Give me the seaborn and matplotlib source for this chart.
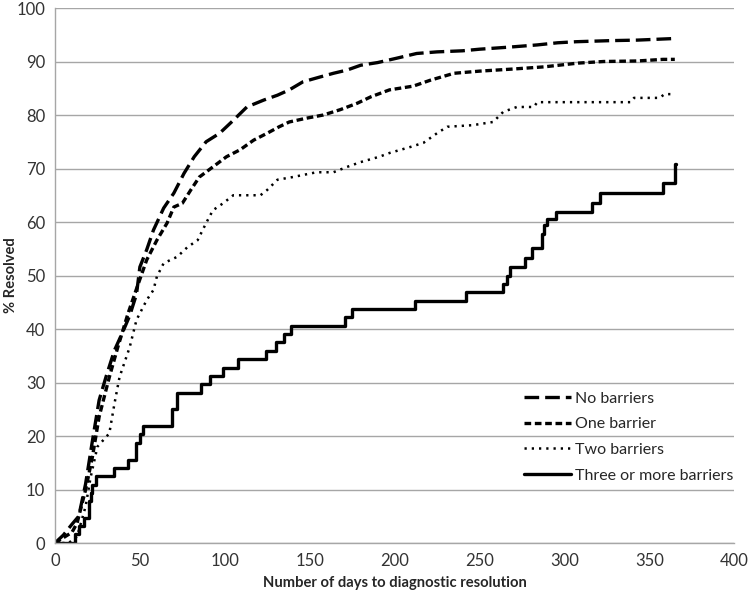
import matplotlib
matplotlib.use("Agg")
import matplotlib.pyplot as plt
import seaborn as sns

# ── Data ──────────────────────────────────────────────────────────────────────
no_days = [0, 5, 10, 14, 18, 22, 26, 30, 35, 40, 44, 48, 50, 54, 58, 64, 70, 76,
           82, 89, 97, 105, 113, 123, 131, 138, 146, 156, 164, 172, 180, 190, 201,
           213, 225, 240, 250, 268, 284, 296, 307, 327, 343, 365]
no_pct = [0, 1.5, 3.5, 5, 11, 19, 26.7, 31, 36, 39.5, 42.5, 46.5, 51.6, 54.8, 58.5,
          62.6, 65.4, 69.1, 72.2, 75, 76.6, 79, 81.5, 82.8, 83.7, 84.7, 86.2, 87.1,
          87.8, 88.4, 89.3, 89.8, 90.6, 91.5, 91.8, 92, 92.3, 92.7, 93.1, 93.5, 93.7,
          93.9, 94, 94.3]

one_days = [0, 5, 10, 13, 18, 22, 26, 32, 37, 43, 48, 54, 60, 66, 70, 75, 80, 85,
            93, 101, 109, 117, 125, 132, 138, 148, 158, 168, 178, 186, 197, 211, 221,
            235, 250, 270, 288, 308, 323, 343, 358, 365]
one_pct = [0, 1, 2, 3.7, 9.9, 16, 23.6, 31, 36.6, 42.9, 47.5, 52.9, 56.6, 59.8, 62.8,
           63.5, 66, 68.4, 70.3, 72.2, 73.5, 75.3, 76.6, 77.8, 78.7, 79.4, 80, 81,
           82.2, 83.4, 84.7, 85.4, 86.5, 87.8, 88.2, 88.6, 89, 89.7, 90, 90.1, 90.4,
           90.4]

two_days = [0, 8, 13, 18, 21, 25, 32, 35, 38, 44, 48, 54, 58, 60, 64, 72, 78, 84, 89,
            93, 99, 105, 121, 125, 131, 140, 154, 164, 172, 180, 191, 197, 209, 217,
            225, 231, 246, 258, 264, 272, 282, 284, 339, 341, 356, 359, 365]
two_pct = [0, 0, 1.2, 6.8, 12.3, 18, 20.5, 26, 31, 36.6, 41.7, 45.4, 47.3, 49.8, 52.3,
           53.5, 55.3, 56.6, 59.8, 62.2, 63.5, 65, 65, 66, 67.9, 68.4, 69.3, 69.3,
           70.3, 71.2, 72.2, 72.9, 74, 74.8, 76.6, 77.8, 78.1, 78.7, 80.6, 81.5,
           81.5, 82.4, 82.4, 83.2, 83.2, 83.9, 83.9]

three_days = [0, 12, 14, 17, 20, 21, 22, 24, 35, 43, 48, 50, 52, 69, 72, 86, 91, 99,
              108, 124, 130, 135, 139, 171, 175, 212, 242, 264, 266, 268, 277, 281,
              287, 288, 290, 295, 316, 321, 358, 365, 365.5]
three_pct = [0, 1.6, 3.1, 4.7, 7.8, 9.4, 10.9, 12.5, 14.1, 15.6, 18.75, 20.3, 21.9,
             25, 28.1, 29.7, 31.25, 32.8, 34.4, 35.9, 37.5, 39.1, 40.6, 42.2, 43.75,
             45.3, 46.9, 48.4, 50, 51.6, 53.3, 55.2, 57.8, 59.4, 60.6, 61.9, 63.6,
             65.5, 67.2, 70.8, 70.8]

labels = ["No barriers", "One barrier", "Two barriers", "Three or more barriers"]

# ── Figure ────────────────────────────────────────────────────────────────────
sns.set_style("white")
plt.rcParams["font.family"] = ["Lato", "DejaVu Sans"]

fig = plt.figure(figsize=(7.5, 5.93), dpi=100)
ax = fig.add_axes([0.0733, 0.0843, 0.9057, 0.9022])

sns.lineplot(x=no_days, y=no_pct, ax=ax, color="black", lw=2.4,
             dashes=False, label=labels[0])
sns.lineplot(x=one_days, y=one_pct, ax=ax, color="black", lw=2.4,
             dashes=False, label=labels[1])
sns.lineplot(x=two_days, y=two_pct, ax=ax, color="black", lw=1.8,
             dashes=False, label=labels[2])
sns.lineplot(x=three_days, y=three_pct, ax=ax, color="black", lw=2.4,
             drawstyle="steps-post", label=labels[3])

lines = ax.get_lines()
lines[0].set_dashes((4.4, 1.8))
lines[1].set_dashes((2.0, 1.1))
lines[2].set_dashes((0.9, 2.0))

ax.set_xlim(0, 400)
ax.set_ylim(0, 100)
ax.set_xticks(range(0, 401, 50))
ax.set_yticks(range(0, 101, 10))
ax.yaxis.grid(True, color="#a6a6a6", lw=1)
ax.xaxis.grid(False)
for side in ["top", "right"]:
    ax.spines[side].set_visible(False)
for side in ["left", "bottom"]:
    ax.spines[side].set_color("#a6a6a6")
    ax.spines[side].set_linewidth(1)
ax.tick_params(axis="both", labelsize=12, labelcolor="#333333", length=0, pad=7)

ax.set_xlabel("Number of days to diagnostic resolution", fontsize=10.6,
              fontweight="bold")
ax.set_ylabel("% Resolved", fontsize=10.6, fontweight="bold")
ax.xaxis.set_label_coords(0.5, -0.062)
ax.yaxis.set_label_coords(-0.055, 0.5)

ax.legend(loc="upper left", bbox_to_anchor=(510 / 750, 1 - 377 / 593),
          bbox_transform=fig.transFigure, frameon=False, fontsize=11.5,
          handlelength=2.9, handletextpad=0.25, labelspacing=0.72)

plt.savefig("out.png", dpi=100)
